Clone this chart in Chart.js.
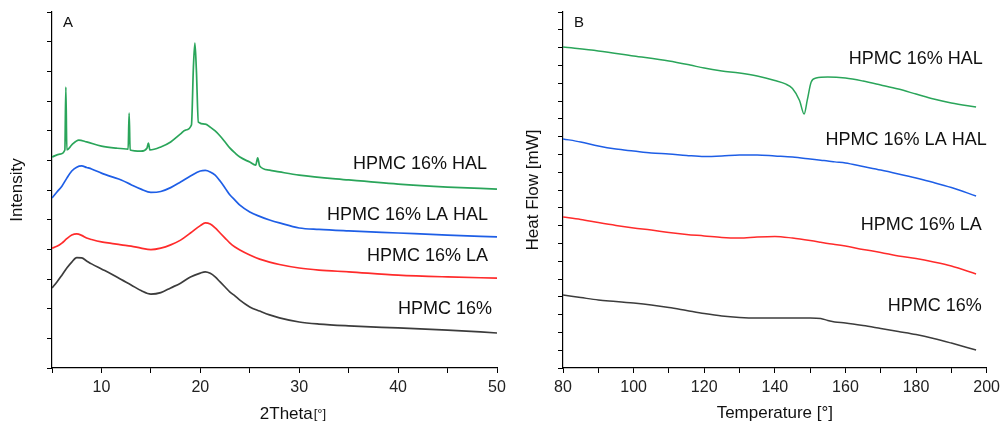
<!DOCTYPE html>
<html>
<head>
<meta charset="utf-8">
<script src="https://cdn.jsdelivr.net/npm/chart.js@4.4.1/dist/chart.umd.min.js"></script>
<style>
  body { margin: 0; background: #fff; }
  #wrap { position: relative; width: 1005px; height: 428px; }
  #wrap canvas { position: absolute; left: 0; top: 0; }
</style>
</head>
<body>
<div id="wrap">
  <canvas id="xrdChart" width="1005" height="428"></canvas>
  <canvas id="dscChart" width="1005" height="428"></canvas>
</div>
<script>
// XRD patterns (2Theta in degrees, intensity in arbitrary stacked units)
const thetaBroad = [5, 5.5, 6, 6.5, 7, 7.5, 8, 8.5, 9, 10, 11, 12, 13, 14, 15, 16, 17, 18, 19, 20, 20.5, 21, 21.5, 22, 22.5, 23, 23.5, 24, 25, 26, 27, 28, 30, 32, 35, 40, 45, 50];
const xrdHpmc = [2.70, 2.90, 3.13, 3.37, 3.57, 3.72, 3.71, 3.61, 3.51, 3.34, 3.17, 2.98, 2.80, 2.61, 2.49, 2.54, 2.70, 2.86, 3.07, 3.20, 3.24, 3.19, 3.07, 2.90, 2.73, 2.56, 2.43, 2.29, 2.06, 1.92, 1.79, 1.69, 1.55, 1.48, 1.42, 1.35, 1.28, 1.18];
const xrdHpmcLa = [4.04, 4.10, 4.21, 4.36, 4.48, 4.52, 4.47, 4.38, 4.33, 4.25, 4.20, 4.15, 4.11, 4.04, 3.99, 4.04, 4.15, 4.31, 4.55, 4.80, 4.89, 4.85, 4.72, 4.55, 4.38, 4.21, 4.08, 3.98, 3.81, 3.67, 3.57, 3.49, 3.37, 3.30, 3.24, 3.13, 3.07, 3.03];
const xrdHpmcLaHal = [5.73, 5.93, 6.13, 6.40, 6.64, 6.77, 6.81, 6.76, 6.71, 6.57, 6.45, 6.34, 6.18, 6.03, 5.92, 5.95, 6.08, 6.27, 6.47, 6.64, 6.66, 6.61, 6.50, 6.30, 6.07, 5.83, 5.66, 5.49, 5.26, 5.11, 4.99, 4.89, 4.72, 4.67, 4.62, 4.55, 4.48, 4.42];
const thetaHal = [5, 5.8, 6.3, 6.4, 6.5, 7, 7.7, 8.5, 10, 11.5, 12.7, 12.8, 12.9, 14, 14.6, 14.75, 14.9, 16, 17, 18, 18.5, 19.1, 19.3, 19.45, 19.6, 19.8, 20.5, 21, 21.5, 22, 22.5, 23, 23.5, 24, 25, 25.6, 25.8, 26.0, 27, 28, 30, 35, 40, 45, 50];
const xrdHpmcHal = [7.11, 7.21, 7.35, 9.47, 7.35, 7.52, 7.68, 7.62, 7.48, 7.41, 7.38, 8.59, 7.35, 7.31, 7.41, 7.58, 7.35, 7.45, 7.62, 7.89, 8.02, 8.19, 10.14, 10.95, 10.04, 8.29, 8.22, 8.12, 7.99, 7.82, 7.62, 7.41, 7.25, 7.11, 6.94, 6.84, 7.08, 6.81, 6.67, 6.61, 6.50, 6.34, 6.20, 6.10, 6.03];
const thetaTicks = [10, 20, 30, 40, 50];

// DSC curves (temperature, heat flow stacked)
const dscTemp = [80, 85, 90, 95, 100, 105, 110, 115, 120, 125, 130, 135, 140, 145, 150, 153, 155, 157, 160, 165, 170, 175, 180, 185, 190, 197];
const dscHpmc = [4.10, 3.96, 3.82, 3.74, 3.65, 3.54, 3.40, 3.23, 3.06, 2.92, 2.84, 2.81, 2.81, 2.81, 2.81, 2.78, 2.67, 2.58, 2.53, 2.39, 2.22, 2.05, 1.88, 1.66, 1.40, 1.01];
const dscHpmcLa = [8.48, 8.34, 8.17, 8.01, 7.87, 7.75, 7.61, 7.50, 7.42, 7.33, 7.30, 7.36, 7.39, 7.30, 7.16, 7.06, 6.99, 6.94, 6.85, 6.66, 6.49, 6.29, 6.15, 5.96, 5.73, 5.28];
const dscHpmcLaHal = [12.87, 12.70, 12.47, 12.30, 12.19, 12.08, 12.02, 11.94, 11.88, 11.91, 11.97, 11.97, 11.91, 11.85, 11.74, 11.67, 11.63, 11.58, 11.52, 11.32, 11.12, 10.90, 10.67, 10.42, 10.14, 9.66];
const dscTempHal = [80, 90, 100, 110, 116, 120, 125, 130, 135, 140, 143, 145, 147, 148.3, 149.2, 150.3, 151.7, 155, 160, 165, 170, 175, 180, 185, 190, 197];
const dscHpmcHal = [18.03, 17.81, 17.53, 17.25, 17.02, 16.85, 16.69, 16.57, 16.40, 16.15, 15.96, 15.70, 15.03, 14.27, 15.06, 16.07, 16.29, 16.35, 16.29, 16.12, 15.90, 15.67, 15.39, 15.11, 14.89, 14.66];
const tempTicks = [80, 100, 120, 140, 160, 180, 200];

const seriesNames = ['HPMC 16%', 'HPMC 16% LA', 'HPMC 16% LA HAL', 'HPMC 16% HAL'];
const seriesColors = ['#3c3c3c', '#ff2b2b', '#1e5ee6', '#2aa55a'];

Chart.defaults.font.family = '"Liberation Sans", Arial, sans-serif';

const toPoints = (xs, ys) => xs.map((x, i) => ({ x: x, y: ys[i] }));

// curve names and panel letter drawn inside the plot
const panelText = {
  id: 'panelText',
  afterDatasetsDraw(chart, args, opts) {
    const { ctx, chartArea } = chart;
    const x = chart.scales.x, y = chart.scales.y;
    ctx.save();
    ctx.fillStyle = '#111';
    ctx.textBaseline = 'middle';
    ctx.textAlign = 'right';
    ctx.font = '18px "Liberation Sans"';
    opts.labels.forEach(l => {
      ctx.fillText(l.text, x.getPixelForValue(l.x), y.getPixelForValue(l.y));
    });
    ctx.textAlign = 'left';
    ctx.font = '15px "Liberation Sans"';
    ctx.fillText(opts.letter, chartArea.left + 11, chartArea.top + 11);
    if (opts.xTitle) {
      // axis title with a smaller unit bracket
      ctx.font = '17px "Liberation Sans"';
      const w1 = ctx.measureText(opts.xTitle[0]).width;
      ctx.font = '13px "Liberation Sans"';
      const w2 = ctx.measureText(opts.xTitle[1]).width;
      const start = (chartArea.left + chartArea.right) / 2 + 18 - (w1 + w2) / 2;
      ctx.font = '17px "Liberation Sans"';
      ctx.fillText(opts.xTitle[0], start, 414);
      ctx.font = '13px "Liberation Sans"';
      ctx.fillText(opts.xTitle[1], start + w1 + 1, 414);
    }
    ctx.restore();
  }
};

function axisGrid() {
  return { drawOnChartArea: false, drawTicks: true, tickLength: 5, color: '#000', lineWidth: 1 };
}

function makeDatasets(list, width) {
  return list.map((pts, i) => ({
    label: seriesNames[i],
    data: pts,
    borderColor: seriesColors[i],
    borderWidth: width,
    pointRadius: 0,
    cubicInterpolationMode: 'monotone'
  }));
}

const xrd = new Chart(document.getElementById('xrdChart'), {
  type: 'line',
  data: {
    datasets: makeDatasets([
      toPoints(thetaBroad, xrdHpmc),
      toPoints(thetaBroad, xrdHpmcLa),
      toPoints(thetaBroad, xrdHpmcLaHal),
      toPoints(thetaHal, xrdHpmcHal)
    ], 1.7)
  },
  options: {
    responsive: false,
    animation: false,
    layout: { padding: { left: 0, right: 508, top: 12, bottom: 0 } },
    plugins: {
      legend: { display: false },
      tooltip: { enabled: false },
      panelText: {
        letter: 'A',
        xTitle: ['2Theta', '[°]'],
        labels: [
          { text: 'HPMC 16% HAL', x: 49.0, y: 6.86 },
          { text: 'HPMC 16% LA HAL', x: 49.1, y: 5.17 },
          { text: 'HPMC 16% LA', x: 49.1, y: 3.76 },
          { text: 'HPMC 16%', x: 49.5, y: 2.0 }
        ]
      }
    },
    scales: {
      x: {
        type: 'linear',
        min: 5,
        max: 50,
        afterFit: s => { s.height = 60; },
        grid: axisGrid(),
        border: { color: '#000', width: 1.2 },
        ticks: {
          stepSize: 5,
          autoSkip: false,
          maxRotation: 0,
          padding: 5,
          color: '#222',
          font: { size: 16 },
          callback: v => thetaTicks.includes(v) ? String(v) : ''
        }
      },
      y: {
        min: 0,
        max: 12,
        afterFit: s => { s.width = 52; },
        grid: axisGrid(),
        border: { color: '#000', width: 1.2 },
        ticks: { stepSize: 1, callback: () => '' },
        title: { display: true, text: 'Intensity', color: '#111', font: { size: 17 }, padding: { top: 7 } }
      }
    }
  },
  plugins: [panelText]
});

const dsc = new Chart(document.getElementById('dscChart'), {
  type: 'line',
  data: {
    datasets: makeDatasets([
      toPoints(dscTemp, dscHpmc),
      toPoints(dscTemp, dscHpmcLa),
      toPoints(dscTemp, dscHpmcLaHal),
      toPoints(dscTempHal, dscHpmcHal)
    ], 1.5)
  },
  options: {
    responsive: false,
    animation: false,
    layout: { padding: { left: 510, right: 17, top: 12, bottom: 0 } },
    plugins: {
      legend: { display: false },
      tooltip: { enabled: false },
      panelText: {
        letter: 'B',
        labels: [
          { text: 'HPMC 16% HAL', x: 198.9, y: 17.33 },
          { text: 'HPMC 16% LA HAL', x: 200, y: 12.81 },
          { text: 'HPMC 16% LA', x: 198.6, y: 8.01 },
          { text: 'HPMC 16%', x: 198.6, y: 3.48 }
        ]
      }
    },
    scales: {
      x: {
        type: 'linear',
        min: 80,
        max: 200,
        afterFit: s => { s.height = 60; },
        grid: axisGrid(),
        border: { color: '#000', width: 1.2 },
        ticks: {
          stepSize: 10,
          autoSkip: false,
          maxRotation: 0,
          padding: 5,
          color: '#222',
          font: { size: 16 },
          callback: v => tempTicks.includes(v) ? String(v) : ''
        },
        title: { display: true, text: 'Temperature [°]', color: '#111', font: { size: 17 }, padding: { bottom: 4 } }
      },
      y: {
        min: 0,
        max: 20,
        afterFit: s => { s.width = 53; },
        grid: axisGrid(),
        border: { color: '#000', width: 1.2 },
        ticks: { stepSize: 1, callback: () => '' },
        title: { display: true, text: 'Heat Flow [mW]', color: '#111', font: { size: 17 }, padding: { top: 13 } }
      }
    }
  },
  plugins: [panelText]
});
</script>
</body>
</html>
